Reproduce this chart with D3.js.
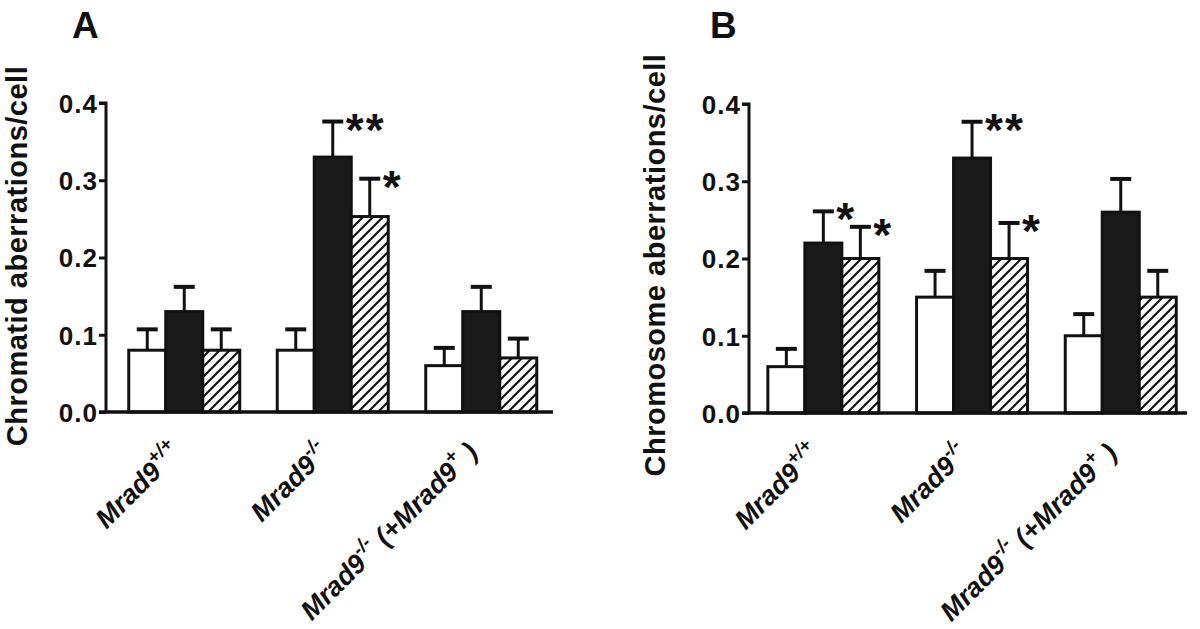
<!DOCTYPE html>
<html>
<head>
<meta charset="utf-8">
<script src="https://cdn.jsdelivr.net/npm/d3@7"></script>
<style>
  html, body { margin: 0; padding: 0; background: #fff; }
  svg { display: block; }
  text { font-family: "Liberation Sans", Arial, Helvetica, sans-serif; font-weight: bold; fill: #111; }
</style>
</head>
<body>
<svg id="chart" width="1200" height="629"></svg>
<script>
// ---------- data ----------
const categories = ["Mrad9+/+", "Mrad9-/-", "Mrad9-/- (+Mrad9+)"];
const seriesNames = ["untreated", "treatment 1", "treatment 2"];
const yTicks = [0.0, 0.1, 0.2, 0.3, 0.4];

// Panel A: chromatid aberrations/cell (mean, mean+SE)
const chromatidMeans = [
  [0.08, 0.13, 0.08],
  [0.08, 0.33, 0.253],
  [0.06, 0.13, 0.07]
];
const chromatidErrTop = [
  [0.107, 0.162, 0.107],
  [0.107, 0.376, 0.302],
  [0.083, 0.162, 0.095]
];
const chromatidStars = [
  [null, null, null],
  [null, "**", "*"],
  [null, null, null]
];

// Panel B: chromosome aberrations/cell
const chromosomeMeans = [
  [0.06, 0.22, 0.20],
  [0.15, 0.33, 0.20],
  [0.10, 0.26, 0.15]
];
const chromosomeErrTop = [
  [0.083, 0.261, 0.241],
  [0.184, 0.377, 0.246],
  [0.128, 0.303, 0.184]
];
const chromosomeStars = [
  [null, "*", "*"],
  [null, "**", "*"],
  [null, null, null]
];

// ---------- drawing ----------
const svg = d3.select("#chart");
const defs = svg.append("defs");
const pat = defs.append("pattern")
  .attr("id", "hatch").attr("patternUnits", "userSpaceOnUse")
  .attr("width", 10).attr("height", 10);
pat.append("rect").attr("width", 10).attr("height", 10).attr("fill", "#fff");
pat.append("path").attr("d", "M-2,2 L2,-2 M0,10 L10,0 M8,12 L12,8")
  .attr("stroke", "#111").attr("stroke-width", 2.2);

const fills = ["#fff", "#1a1a1a", "url(#hatch)"];

function labelParts(cat) {
  if (cat === "Mrad9+/+") return [["Mrad9", false], ["+/+", true]];
  if (cat === "Mrad9-/-") return [["Mrad9", false], ["-/-", true]];
  return [["Mrad9", false], ["-/-", true], [" (+Mrad9", false], ["+", true], [" )", false]];
}

function drawPanel(cfg) {
  const g = svg.append("g");
  const y = d3.scaleLinear().domain([0, 0.4]).range([cfg.y0, cfg.yTop]);
  const x = d3.scaleBand().domain(categories)
    .range([cfg.x0 + cfg.bandStart, cfg.x0 + cfg.bandStart + 3 * cfg.step])
    .paddingInner(0).paddingOuter(0);
  const xs = d3.scaleBand().domain(d3.range(3))
    .range([-cfg.barW * 1.5, cfg.barW * 1.5]);

  // bars
  categories.forEach((c, ci) => {
    const cx = x(c) + x.bandwidth() / 2;
    cfg.means[ci].forEach((v, si) => {
      const bx = cx + xs(si);
      const bw = xs.bandwidth();
      const et = cfg.err[ci][si];
      g.append("line")
        .attr("x1", bx + bw / 2).attr("x2", bx + bw / 2)
        .attr("y1", y(v)).attr("y2", y(et))
        .attr("stroke", "#111").attr("stroke-width", 3);
      g.append("line")
        .attr("x1", bx + bw / 2 - 10.5).attr("x2", bx + bw / 2 + 10.5)
        .attr("y1", y(et)).attr("y2", y(et))
        .attr("stroke", "#111").attr("stroke-width", 4);
      g.append("rect")
        .attr("x", bx).attr("y", y(v))
        .attr("width", bw).attr("height", y(0) - y(v))
        .attr("fill", fills[si]).attr("stroke", "#111").attr("stroke-width", 3);
      const st = cfg.stars[ci][si];
      if (st) {
        g.append("text")
          .attr("x", bx + bw / 2 + 13).attr("y", y(et) + 24)
          .attr("font-size", 46).attr("letter-spacing", 2)
          .text(st);
      }
    });
  });

  // y axis
  const yAxis = d3.axisLeft(y).tickValues(yTicks).tickFormat(d3.format(".1f"))
    .tickSize(7).tickPadding(1);
  const ya = g.append("g").attr("transform", `translate(${cfg.x0},0)`).call(yAxis);
  ya.select(".domain").attr("stroke", "#111").attr("stroke-width", 3)
    .attr("d", `M-7,${cfg.yTop}H0V${cfg.y0}`);
  ya.selectAll(".tick line").attr("stroke", "#111").attr("stroke-width", 3);
  ya.selectAll(".tick text").attr("font-size", 26).attr("letter-spacing", 1)
    .attr("font-family", '"Liberation Sans", Arial, sans-serif').attr("font-weight", "bold")
    .attr("fill", "#111").attr("dy", "0.36em");

  // x axis line
  g.append("line").attr("x1", cfg.x0 - 7).attr("x2", cfg.xEnd)
    .attr("y1", cfg.y0).attr("y2", cfg.y0)
    .attr("stroke", "#111").attr("stroke-width", 3.5);

  // category labels
  categories.forEach((c) => {
    const cx = x(c) + x.bandwidth() / 2;
    const t = g.append("text")
      .attr("transform", `translate(${cx - 2},${cfg.y0 + 42}) rotate(-45)`)
      .attr("text-anchor", "end").attr("font-size", 27).attr("font-style", "italic");
    labelParts(c).forEach(([s, sup]) => {
      t.append("tspan").text(s)
        .attr("font-size", sup ? 19 : 27)
        .attr("baseline-shift", sup ? "12px" : null);
    });
  });

  // y title
  g.append("text")
    .attr("transform", `translate(${cfg.titleX},${cfg.titleY}) rotate(-90)`)
    .attr("text-anchor", "middle").attr("font-size", 29).attr("letter-spacing", 0.5)
    .text(cfg.title);

  // panel letter
  g.append("text").attr("x", cfg.letterX).attr("y", 38)
    .attr("font-size", 37).text(cfg.letter);
}

drawPanel({
  letter: "A", letterX: 72,
  title: "Chromatid aberrations/cell", titleX: 27, titleY: 256,
  x0: 106, xEnd: 553, y0: 412, yTop: 103,
  bandStart: 4, step: 148.5, barW: 37,
  means: chromatidMeans, err: chromatidErrTop, stars: chromatidStars
});
drawPanel({
  letter: "B", letterX: 710,
  title: "Chromosome aberrations/cell", titleX: 665, titleY: 265,
  x0: 749, xEnd: 1187, y0: 413, yTop: 104,
  bandStart: 0, step: 148.7, barW: 37,
  means: chromosomeMeans, err: chromosomeErrTop, stars: chromosomeStars
});
</script>
</body>
</html>
